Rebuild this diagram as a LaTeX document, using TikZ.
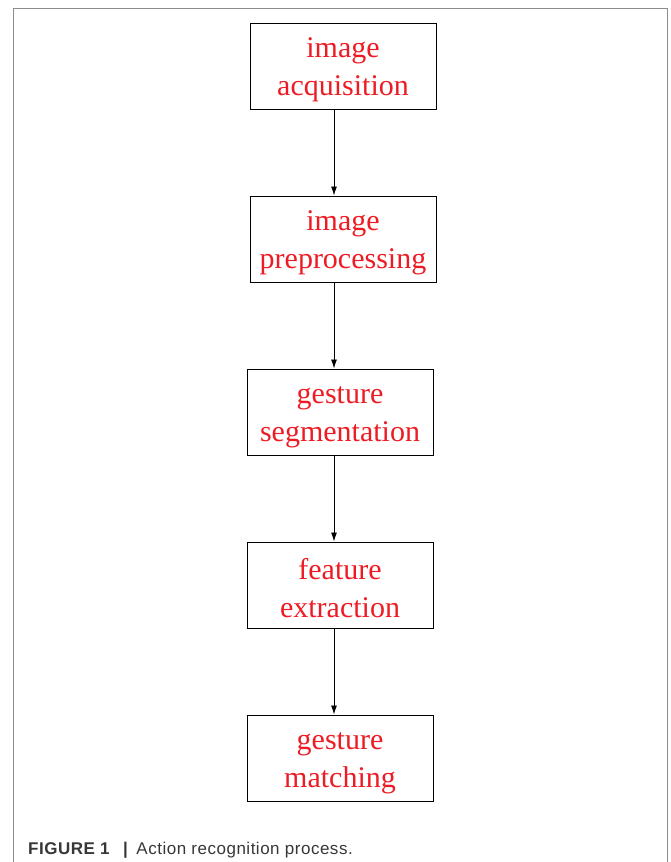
\documentclass[tikz,border=0pt]{standalone}
\usepackage{fontspec}
\setmainfont{Liberation Serif}
\newfontfamily\capfont[LetterSpace=3.0]{Liberation Sans}
\usetikzlibrary{arrows.meta}
\definecolor{labelred}{RGB}{237,28,36}
\definecolor{framegray}{RGB}{140,140,140}
\definecolor{captiongray}{RGB}{55,55,55}
% two-line stage label; the strut lowers the text block a little inside its box
\newcommand{\stagelabel}[2]{\rule{0pt}{28pt}#1\\#2}
\begin{document}
\begin{tikzpicture}[x=1pt,y=1pt,
  stagebox/.style={draw=black, line width=1pt, minimum width=186pt, minimum height=86pt,
    inner sep=0pt, align=center, text=labelred,
    font=\fontsize{30}{38}\selectfont},
  flow/.style={draw=black, line width=0.9pt, -{Latex[length=9pt,width=6pt]}}]
  \useasboundingbox (0,0) rectangle (670,-862);
  % open frame around the figure
  \draw[framegray, line width=1pt] (13,-862) -- (13,-8) -- (667,-8) -- (667,-862);
  % process stages
  \node[stagebox] (acq) at (343,-66) {\stagelabel{image}{acquisition}};
  \node[stagebox] (pre) at (343,-239) {\stagelabel{image}{preprocessing}};
  \node[stagebox] (seg) at (340,-412) {\stagelabel{gesture}{segmentation}};
  \node[stagebox] (fea) at (340,-585) {\stagelabel{feature}{extraction}};
  \node[stagebox] (mat) at (340,-758) {\stagelabel{gesture}{matching}};
  % arrows run along a common vertical line
  \coordinate (axis) at (334,0);
  \draw[flow] (acq.south -| axis) -- (pre.north -| axis);
  \draw[flow] (pre.south -| axis) -- (seg.north -| axis);
  \draw[flow] (seg.south -| axis) -- (fea.north -| axis);
  \draw[flow] (fea.south -| axis) -- (mat.north -| axis);
  % caption
  \node[anchor=base west, inner sep=0pt, text=captiongray, font=\capfont\fontsize{17}{20}\selectfont] (cap) at (28,-854)
    {\textbf{FIGURE 1}\hspace{13pt}\textbf{|}\hspace{8pt}Action recognition process.};
\end{tikzpicture}
\end{document}
